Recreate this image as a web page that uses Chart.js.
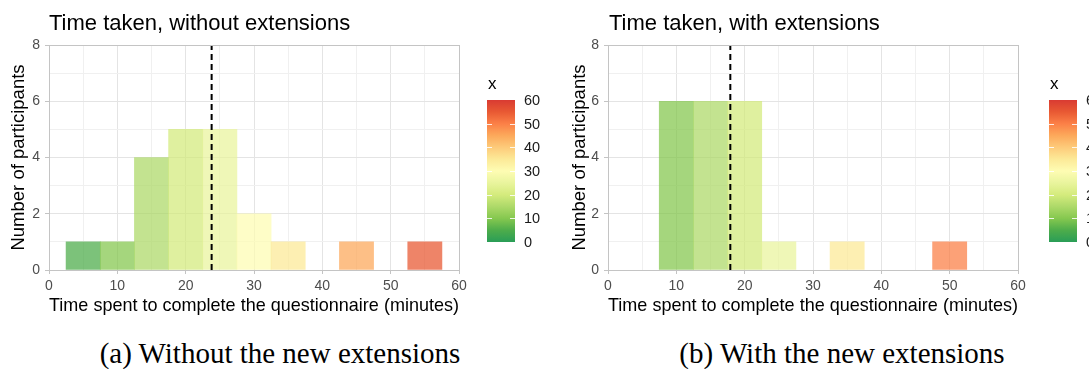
<!DOCTYPE html>
<html><head><meta charset="utf-8">
<script src="https://cdn.jsdelivr.net/npm/chart.js@4"></script>
<style>
body{margin:0;background:#fff;width:1089px;height:369px;overflow:hidden;position:relative;font-family:"Liberation Sans",Arial,sans-serif}
canvas{position:absolute;top:0}
.ttl{position:absolute;font-size:22px;color:#000;white-space:nowrap;line-height:24px}
.cap{position:absolute;font-family:"Liberation Serif","Times New Roman",serif;font-size:29px;line-height:30px;white-space:nowrap;transform:translateX(-50%);color:#000}
.lgt{position:absolute;font-size:17px;line-height:18px;color:#000}
.bar{position:absolute}
.lbl{position:absolute;font-size:14.5px;line-height:16px;color:#1a1a1a;white-space:nowrap}
.tk{position:absolute;height:1px;width:5px;background:rgba(255,255,255,0.85)}
</style>
</head><body>
<canvas id="c1" width="545" height="330" style="left:0"></canvas>
<canvas id="c2" width="544" height="330" style="left:545px"></canvas>
<div class="ttl" style="left:49px;top:11px">Time taken, without extensions</div>
<div class="ttl" style="left:609px;top:11px">Time taken, with extensions</div>
<div class="cap" style="left:280px;top:338px">(a) Without the new extensions</div>
<div class="cap" style="left:842px;top:338px">(b) With the new extensions</div>
<div id="legends"></div>
<script>
// ---- data ----
const binCentres = [5, 10, 15, 20, 25, 30, 35, 40, 45, 50, 55];
const countsWithout = [1, 1, 4, 5, 5, 2, 1, 0, 1, 0, 1];
const countsWith = [0, 6, 6, 6, 1, 0, 1, 0, 0, 1, 0];
const meanWithout = 23.8;
const meanWith = 17.9;
const xTickLabels = [0, 10, 20, 30, 40, 50, 60];
const yTickLabels = [0, 2, 4, 6, 8];
const legendTicks = [0, 10, 20, 30, 40, 50, 60];
const titles = {x: 'Time spent to complete the questionnaire (minutes)', y: 'Number of participants', legend: 'x'};

// ---- style: fill colour scale (value -> colour) ----
const colourStops = [
  [0, [30, 152, 78]], [5, [68, 168, 65]], [10, [127, 197, 70]], [15, [169, 215, 97]],
  [20, [210, 234, 118]], [25, [232, 244, 152]], [30, [254, 252, 175]], [35, [252, 232, 146]],
  [40, [253, 200, 115]], [45, [252, 164, 82]], [50, [251, 121, 61]], [55, [231, 80, 40]], [60, [215, 48, 39]]
];
function colourAt(v) {
  for (let i = 0; i < colourStops.length - 1; i++) {
    const [a, ca] = colourStops[i], [b, cb] = colourStops[i + 1];
    if (v >= a && v <= b) {
      const t = (v - a) / (b - a);
      return ca.map((c, k) => Math.round(c + (cb[k] - c) * t));
    }
  }
  return colourStops[colourStops.length - 1][1];
}
const rgba = (c, a) => `rgba(${c[0]},${c[1]},${c[2]},${a})`;

const GRID = '#e4e4e4', MINOR = '#f0f0f0', EDGE = '#c4c4c4', TICKTXT = '#4d4d4d';
const FONT = '"Liberation Sans", Arial, sans-serif';

function makeChart(id, counts, mean, yWidth, yTitlePad, padRight) {
  const barData = binCentres.map((x, i) => ({x: x, y: counts[i] > 0 ? counts[i] : null}));
  return new Chart(document.getElementById(id), {
    data: {
      datasets: [
        {type: 'bar', data: barData, backgroundColor: barData.map(d => rgba(colourAt(d.x), 0.7)),
         borderWidth: 0, barPercentage: 1, categoryPercentage: 1, order: 2},
        {type: 'line', data: [{x: mean, y: 0}, {x: mean, y: 8}], borderColor: '#000', borderWidth: 2,
         borderDash: [6, 4], pointRadius: 0, fill: false, order: 1}
      ]
    },
    options: {
      responsive: false, animation: false, devicePixelRatio: 1,
      layout: {padding: {left: 0, right: padRight, top: 45, bottom: 0}},
      plugins: {legend: {display: false}, tooltip: {enabled: false}, title: {display: false}},
      scales: {
        x: {
          type: 'linear', min: 0, max: 60, offset: false,
          grid: {offset: false, drawTicks: true, tickLength: 4,
            color: c => (c.tick.value === 0 || c.tick.value === 60) ? EDGE : (c.tick.value % 10 === 0 ? GRID : MINOR),
            tickColor: c => c.tick.value % 10 === 0 ? EDGE : 'rgba(0,0,0,0)'},
          border: {color: EDGE, width: 1},
          ticks: {stepSize: 5, autoSkip: false, maxRotation: 0, padding: 4, color: TICKTXT,
            font: {family: FONT, size: 14},
            callback: v => xTickLabels.includes(v) ? String(v) : ''},
          title: {display: true, text: titles.x, color: '#000', padding: {top: 0, bottom: 13},
            font: {family: FONT, size: 18.5}},
          afterFit: s => { s.height = 60; }
        },
        y: {
          type: 'linear', min: 0, max: 8,
          grid: {drawTicks: true, tickLength: 4,
            color: c => (c.tick.value === 0 || c.tick.value === 8) ? EDGE : (c.tick.value % 2 === 0 ? GRID : MINOR),
            tickColor: c => c.tick.value % 2 === 0 ? EDGE : 'rgba(0,0,0,0)'},
          border: {color: EDGE, width: 1},
          ticks: {stepSize: 1, autoSkip: false, padding: 5, color: TICKTXT,
            font: {family: FONT, size: 14},
            callback: v => yTickLabels.includes(v) ? String(v) : ''},
          title: {display: true, text: titles.y, color: '#000', padding: {top: yTitlePad, bottom: 0},
            font: {family: FONT, size: 18.5}},
          afterFit: s => { s.width = yWidth; }
        }
      }
    },
    plugins: [{
      id: 'rightTopBorder',
      afterDatasetsDraw(chart) {
        const a = chart.chartArea, ctx = chart.ctx;
        ctx.save(); ctx.strokeStyle = EDGE; ctx.lineWidth = 1;
        ctx.beginPath();
        ctx.moveTo(Math.round(a.left) + 0.5, Math.round(a.top) + 0.5);
        ctx.lineTo(Math.round(a.right) + 0.5, Math.round(a.top) + 0.5);
        ctx.lineTo(Math.round(a.right) + 0.5, Math.round(a.bottom) + 0.5);
        ctx.stroke(); ctx.restore();
      }
    }]
  });
}

makeChart('c1', countsWithout, meanWithout, 49, 8, 86);
makeChart('c2', countsWith, meanWith, 63, 24, 71);

// ---- colourbar legends ----
function makeLegend(barLeft) {
  const host = document.getElementById('legends');
  const top = 100, bottom = 242, w = 28, h = bottom - top;
  const stops = colourStops.slice().reverse()
    .map(([v, c]) => `${rgba(c, 0.95)} ${((60 - v) / 60 * 100).toFixed(2)}%`).join(', ');
  let html = `<div class="lgt" style="left:${barLeft + 1}px;top:75px">${titles.legend}</div>`;
  html += `<div class="bar" style="left:${barLeft}px;top:${top}px;width:${w}px;height:${h}px;background:linear-gradient(to bottom, ${stops})"></div>`;
  legendTicks.forEach(v => {
    const y = bottom - v / 60 * h;
    html += `<div class="lbl" style="left:${barLeft + w + 9}px;top:${(y - 8).toFixed(1)}px">${v}</div>`;
    if (v > 0 && v < 60) {
      html += `<div class="tk" style="left:${barLeft}px;top:${y.toFixed(1)}px"></div>`;
      html += `<div class="tk" style="left:${barLeft + w - 5}px;top:${y.toFixed(1)}px"></div>`;
    }
  });
  host.insertAdjacentHTML('beforeend', html);
}
makeLegend(487);
makeLegend(1049);
</script>
</body></html>
